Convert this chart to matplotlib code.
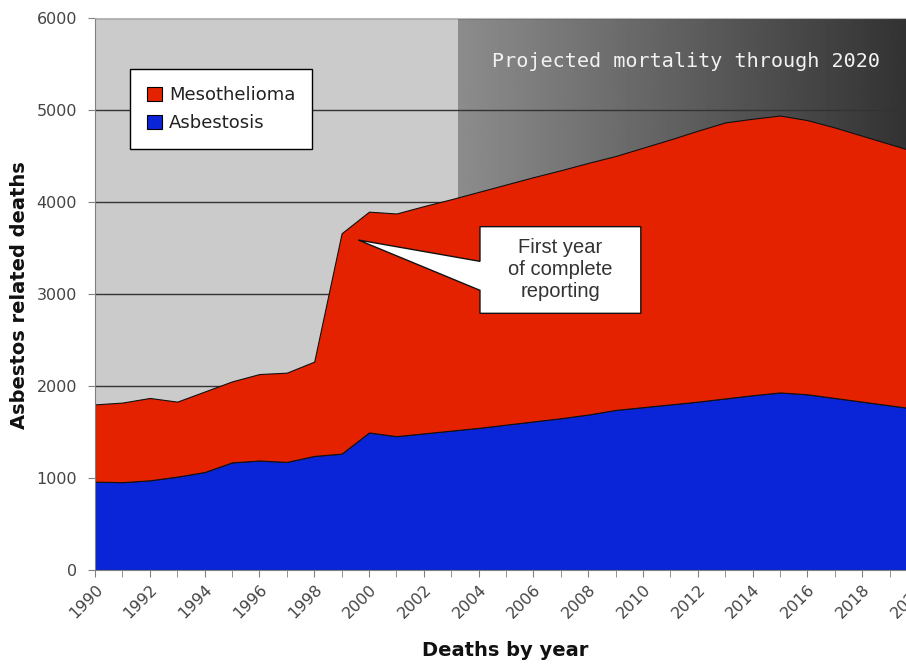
import numpy as np
import matplotlib
matplotlib.use('Agg')
import matplotlib.pyplot as plt
from matplotlib.patches import Patch, Polygon
from matplotlib.ticker import MultipleLocator

# data
years = list(range(1990, 2021))
asbestosis = [960, 955, 975, 1015, 1065, 1170, 1190, 1175, 1240, 1265,
              1495, 1455, 1485, 1515, 1545, 1580, 1615, 1650, 1690, 1740,
              1770, 1800, 1830, 1865, 1900, 1930, 1910, 1870, 1830, 1790, 1750]
mesothelioma = [840, 865, 895, 815, 875, 880, 940, 970, 1025, 2395,
                2400, 2420, 2470, 2515, 2565, 2610, 2655, 2695, 2735, 2760,
                2820, 2880, 2945, 3000, 3005, 3010, 2980, 2940, 2890, 2840, 2790]
series_names = ['Asbestosis', 'Mesothelioma']
y_ticks = [0, 1000, 2000, 3000, 4000, 5000, 6000]
projection_start = 2003.25

blue = '#0a24d8'
red = '#e52200'

fig = plt.figure(figsize=(9.06, 6.64), dpi=100)
ax = fig.add_axes([95 / 906, 94 / 664, 822 / 906, 552 / 664])
ax.set_facecolor('#cbcbcb')

# darkening band for the projected years
grad = np.linspace(0.55, 0.19, 256).reshape(1, -1)
ax.imshow(grad, cmap='gray', vmin=0, vmax=1, aspect='auto',
          extent=[projection_start, years[-1], 0, y_ticks[-1]], zorder=0.2)

ax.stackplot(years, asbestosis, mesothelioma, colors=[blue, red],
             edgecolor='#111111', linewidth=0.8, zorder=2)

ax.set_xlim(years[0], years[-1])
ax.set_ylim(0, y_ticks[-1])
ax.set_yticks(y_ticks)
ax.xaxis.set_major_locator(MultipleLocator(2))
ax.xaxis.set_minor_locator(MultipleLocator(1))
ax.set_axisbelow('line')
ax.yaxis.grid(True, color='#333333', linewidth=1.0)

for s in ['left', 'bottom']:
    ax.spines[s].set_color('#808080')
ax.spines['top'].set_color('#bbbbbb')
ax.spines['right'].set_visible(False)

ax.tick_params(axis='both', which='both', direction='out', length=5,
               color='#808080', labelcolor='#444444', labelsize=11.5)
ax.tick_params(axis='y', pad=8)
for lbl in ax.get_xticklabels():
    lbl.set_rotation(45)
    lbl.set_ha('right')
    lbl.set_va('top')
    lbl.set_rotation_mode('anchor')

fig.text(20 / 906, 1 - 295 / 664, 'Asbestos related deaths', fontsize=14,
         fontweight='bold', color='#111111', rotation=90, ha='center', va='center')
fig.text(505 / 906, 1 - 651 / 664, 'Deaths by year', fontsize=14,
         fontweight='bold', color='#111111', ha='center', va='center')

# legend
handles = [Patch(facecolor=red, edgecolor='black', linewidth=0.8, label=series_names[1]),
           Patch(facecolor=blue, edgecolor='black', linewidth=0.8, label=series_names[0])]
leg = ax.legend(handles=handles, loc='upper left',
                bbox_to_anchor=(130 / 906, 1 - 69 / 664), bbox_transform=fig.transFigure,
                fancybox=False, framealpha=1, edgecolor='black', fontsize=13,
                handlelength=0.8, handleheight=0.8, handletextpad=0.4,
                borderpad=0.95, labelspacing=0.55, borderaxespad=0)
leg.get_frame().set_linewidth(1.0)
leg.set_zorder(5)
for t in leg.get_texts():
    t.set_color('#222222')

# projection caption
ax.text(2011.57, 5522, 'Projected mortality through 2020', color='#f2f2f2',
        fontsize=14.5, family='DejaVu Sans Mono', ha='center', va='center', zorder=4)

# callout box with pointer
bx0, bx1, by0, by1 = 2004.05, 2009.92, 2790, 3732
tip = (1999.61, 3587)
callout = Polygon([(bx0, by1), (bx1, by1), (bx1, by0), (bx0, by0),
                   (bx0, 3040), tip, (bx0, 3355)],
                  closed=True, facecolor='white', edgecolor='#111111',
                  linewidth=1.0, zorder=4)
ax.add_patch(callout)
ax.text((bx0 + bx1) / 2, (by0 + by1) / 2, 'First year\nof complete\nreporting',
        family='Liberation Sans', fontsize=14.5, color='#333333',
        ha='center', va='center', linespacing=1.2, zorder=5)

fig.savefig('out.png', dpi=100)
